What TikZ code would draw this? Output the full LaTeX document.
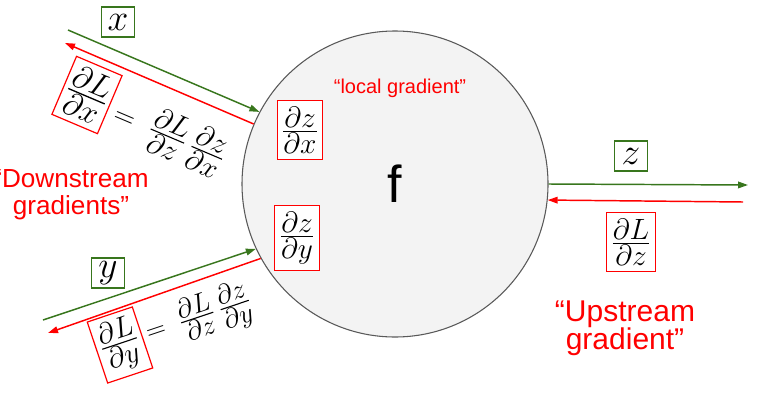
\RequirePackage{fix-cm}
\documentclass[tikz,border=0pt]{standalone}
\usepackage{fontspec}
\setmainfont{Liberation Sans}
\usepackage{amsmath}
\usetikzlibrary{arrows.meta, calc, positioning}
\definecolor{bpGreen}{HTML}{38761D}
\definecolor{bpRed}{HTML}{FF0000}
\definecolor{bpGrey}{HTML}{595959}
\definecolor{bpFill}{HTML}{F3F3F3}
% partial derivative with full-size parts
\newcommand{\gfrac}[2]{\frac{\textstyle\partial #1}{\textstyle\partial #2}}
\tikzset{
  % forward values in green, backward gradients in red
  fwd/.style     = {-{Triangle[length=7.5pt, width=5pt]}, bpGreen, line width=1.1pt},
  bwd/.style     = {-{Triangle[length=7.5pt, width=5pt]}, bpRed, line width=1.1pt},
  varbox/.style  = {draw=bpGreen, line width=0.9pt, fill=white, inner sep=0pt,
                    minimum width=24.5pt, minimum height=22.5pt,
                    font=\fontsize{28}{32}\selectfont},
  gradbox/.style = {draw=bpRed, line width=0.9pt, fill=white, inner xsep=3.5pt,
                    inner ysep=4.5pt, font=\fontsize{22}{26}\selectfont},
  eqtext/.style  = {inner sep=3pt, font=\fontsize{20.5}{24}\selectfont},
  redlbl/.style  = {bpRed, align=center},
}

\begin{document}
\begin{tikzpicture}[x=0.75pt, y=-0.75pt,
    gate/.style={circle, draw=bpGrey, fill=bpFill, line width=0.8pt,
                 minimum size=229.5pt, font=\fontsize{39}{44}\selectfont}]
  \useasboundingbox (0,0) rectangle (762,410);
  \clip (0,0) rectangle (762,410);
  % the gate
  \node[gate] (f) at (395,184) {f};
  \node[redlbl, font=\fontsize{15}{18}\selectfont] (loc) at (400,88) {“local gradient”};
  \node[gradbox] (dzdx) at (300,130) {$\gfrac{z}{x}$};
  \node[gradbox] (dzdy) at (297,238) {$\gfrac{z}{y}$};
  % input x
  \coordinate (xin) at (68,30);
  \coordinate (xback) at (65,43);
  \draw[fwd] (xin) -- (f.152);
  \draw[bwd] (f.157) -- (xback);
  \node[varbox] (xv) at (118,22) {$x$};
  \node[gradbox, rotate=-23, font=\fontsize{24}{28}\selectfont, inner xsep=2.5pt]
    (dLdx) at (87,95) {$\gfrac{L}{x}$};
  \node[eqtext, rotate=-23, anchor=west, font=\fontsize{22}{26}\selectfont]
    (eqx) at ($(dLdx.east)+(1,6)$) {$= \;\gfrac{L}{z}\,\gfrac{z}{x}$};
  % input y
  \coordinate (yin) at (43,320);
  \coordinate (yback) at (48,333);
  \draw[fwd] (yin) -- (f.205);
  \draw[bwd] (f.209) -- (yback);
  \node[varbox] (yv) at (108,273) {$y$};
  \node[gradbox, rotate=18.5, inner xsep=3pt] (dLdy) at (120,345) {$\gfrac{L}{y}$};
  \node[eqtext, rotate=18.5, anchor=west] (eqy) at (dLdy.east)
    {$= \;\gfrac{L}{z}\,\gfrac{z}{y}$};
  % output z
  \coordinate (zout) at (748,185);
  \coordinate (zin) at (743,202);
  \draw[fwd] (f.east) -- (zout);
  \draw[bwd] (zin) -- (f.-6.8);
  \node[varbox] (zv) at (631,156) {$z$};
  \node[gradbox] (dLdz) at (631,242) {$\gfrac{L}{z}$};
  % labels
  \node[redlbl, font=\fontsize{19.6}{20.3}\selectfont] (down) at (71,195)
    {“Downstream\\gradients”};
  \node[redlbl, font=\fontsize{22.5}{21}\selectfont] (up) at (625,328)
    {“Upstream\\gradient”};
\end{tikzpicture}
\end{document}
